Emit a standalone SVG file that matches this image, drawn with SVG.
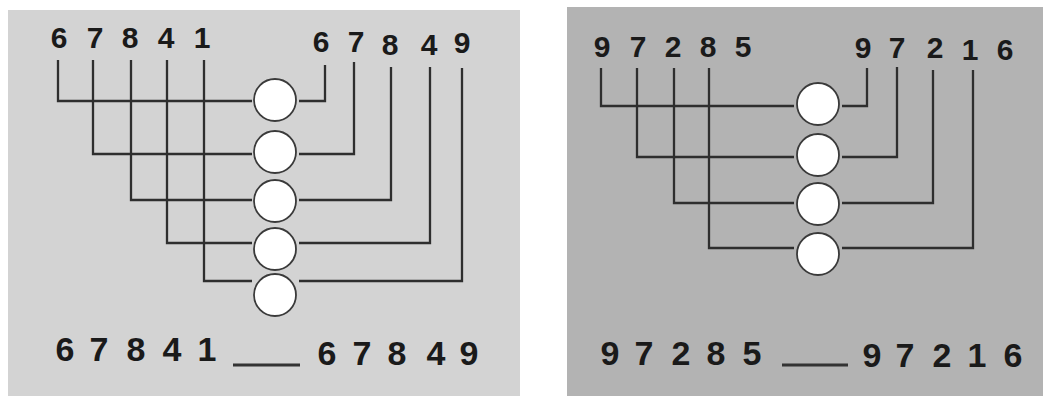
<svg xmlns="http://www.w3.org/2000/svg" width="1043" height="396" viewBox="0 0 1043 396">
<style>
.d{font-family:"Liberation Sans",Arial,sans-serif;font-weight:bold;fill:#1a1a1a;text-anchor:middle}
.t{font-size:30px}
.b{font-size:34px}
.w{fill:none;stroke:#2e2e2e;stroke-width:2.3}
.u{fill:none;stroke:#333;stroke-width:3}
.n{fill:#fff;stroke:#3a3a3a;stroke-width:1.8}
</style>
<rect width="1043" height="396" fill="#fff"/>
<rect x="8" y="10" width="512" height="386" fill="#d3d3d3"/>
<rect x="567" y="7" width="476" height="389" fill="#b3b3b3"/>

<g id="connectors">
  <path class="w" d="M58 60V101H252M93 60V154H252M131 60V200H252M167 60V243H252M204 60V281H252"/>
  <path class="w" d="M299 101H325V65M299 154H354V62M299 200H391V67M299 243H430V67M299 281H462V68"/>
  <path class="w" d="M601 68V106H794M637 68V157H794M674 68V203H794M709 68V248H794"/>
  <path class="w" d="M842 106H867V68M842 157H897V67M842 203H933V70M842 248H973V70"/>
  <path class="u" d="M233 365H300M782 365H848"/>
</g>

<g id="left-nodes">
  <g id="L1"><circle class="n" cx="275" cy="100" r="21"/></g>
  <g id="L2"><circle class="n" cx="275" cy="152" r="21"/></g>
  <g id="L3"><circle class="n" cx="275" cy="201" r="21"/></g>
  <g id="L4"><circle class="n" cx="275" cy="249" r="21"/></g>
  <g id="L5"><circle class="n" cx="275" cy="295" r="21"/></g>
</g>
<g id="right-nodes">
  <g id="R1"><circle class="n" cx="818" cy="104" r="21"/></g>
  <g id="R2"><circle class="n" cx="818" cy="155" r="21"/></g>
  <g id="R3"><circle class="n" cx="818" cy="204" r="21"/></g>
  <g id="R4"><circle class="n" cx="818" cy="254" r="21"/></g>
</g>

<g id="labels">
  <text class="d t" x="59 77 95 112 130 148 166 184 202" y="48">6 7 8 4 1</text>
  <text class="d t" x="321 338 356 373 390 410 429 445 462" y="52 52 52 53 55 55 55 54 53">6 7 8 4 9</text>
  <text class="d b" x="65 82 99 117 136 154 172 190 207" y="361">6 7 8 4 1</text>
  <text class="d b" x="327 344 362 380 397 416 436 452 469" y="365">6 7 8 4 9</text>
  <text class="d t" x="602 620 638 655 673 690 708 725 743" y="57">9 7 2 8 5</text>
  <text class="d t" x="863 880 897 916 935 952 970 988 1005" y="58 58 58 58 58 59 60 60 60">9 7 2 1 6</text>
  <text class="d b" x="610 627 644 662 681 698 716 734 752" y="365">9 7 2 8 5</text>
  <text class="d b" x="872 888 905 923 942 960 977 995 1013" y="367">9 7 2 1 6</text>
</g>
</svg>
